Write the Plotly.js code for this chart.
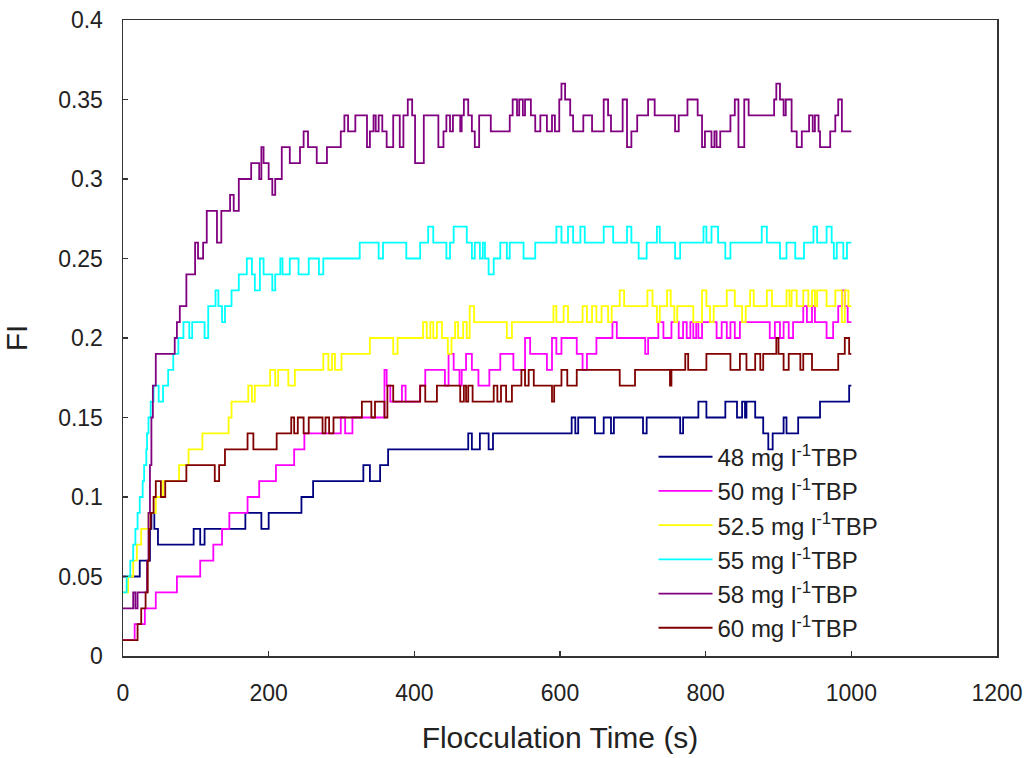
<!DOCTYPE html>
<html>
<head>
<meta charset="utf-8">
<script src="https://cdn.plot.ly/plotly-3.0.1.min.js"></script>
<style>
html,body{margin:0;padding:0;background:#fff;}
#chart{width:1031px;height:758px;}
</style>
</head>
<body>
<div id="chart"></div>
<script>
// Series names
const seriesNames = [
  '48 mg l<sup>-1</sup>TBP',
  '50 mg l<sup>-1</sup>TBP',
  '52.5 mg l<sup>-1</sup>TBP',
  '55 mg l<sup>-1</sup>TBP',
  '58 mg l<sup>-1</sup>TBP',
  '60 mg l<sup>-1</sup>TBP'
];

// 48 mg/l TBP: step change times (s) and FI values
const t48 = [0,23,37,39,43,48,97,106,112,168,190,200,245,261,330,339,353,364,474,479,490,502,508,616,621,625,648,660,670,674,714,719,765,769,790,801,827,843,850,854,856,868,879,886,892,907,911,927,957,997,1000];
const v48 = [0.05,0.06,0.08,0.09,0.08,0.07,0.08,0.07,0.08,0.09,0.08,0.09,0.10,0.11,0.12,0.11,0.12,0.13,0.14,0.13,0.14,0.13,0.14,0.15,0.14,0.15,0.14,0.15,0.14,0.15,0.14,0.15,0.14,0.15,0.16,0.15,0.16,0.15,0.16,0.15,0.16,0.15,0.14,0.13,0.14,0.15,0.14,0.15,0.16,0.17,0.17];

// 50 mg/l TBP
const t50 = [0,16,30,45,74,106,124,136,146,171,187,210,235,249,299,305,315,359,362,367,383,388,408,415,442,447,454,462,465,471,479,488,503,518,536,552,559,582,589,595,602,623,631,637,650,672,678,717,721,735,742,753,763,769,774,779,783,787,790,795,815,822,829,834,840,847,888,895,902,907,914,920,934,939,946,950,966,975,982,987,991,995,1000];
const v50 = [0.01,0.02,0.03,0.04,0.05,0.06,0.07,0.08,0.09,0.10,0.11,0.12,0.13,0.14,0.15,0.14,0.15,0.18,0.17,0.16,0.17,0.16,0.17,0.18,0.17,0.19,0.18,0.17,0.18,0.19,0.18,0.17,0.18,0.19,0.18,0.20,0.19,0.18,0.20,0.19,0.20,0.19,0.18,0.19,0.20,0.21,0.20,0.19,0.20,0.21,0.20,0.21,0.20,0.21,0.20,0.21,0.20,0.21,0.20,0.21,0.20,0.21,0.20,0.21,0.20,0.21,0.20,0.21,0.20,0.21,0.20,0.21,0.22,0.21,0.22,0.21,0.20,0.21,0.22,0.23,0.22,0.21,0.21];

// 52.5 mg/l TBP
const t52 = [0,7,14,19,25,35,45,55,77,90,109,145,149,172,177,181,202,209,213,227,236,275,282,287,291,300,339,371,377,412,417,422,426,431,438,446,451,456,460,467,472,476,482,527,534,591,595,605,611,631,637,644,650,657,666,671,682,688,720,727,733,737,747,752,757,761,783,795,801,806,811,829,840,850,855,861,866,884,891,911,915,918,925,934,941,946,950,953,966,978,987,991,996,1000];
const v52 = [0.04,0.05,0.06,0.07,0.08,0.09,0.10,0.11,0.12,0.13,0.14,0.15,0.16,0.17,0.16,0.17,0.18,0.17,0.18,0.17,0.18,0.19,0.18,0.19,0.18,0.19,0.20,0.19,0.20,0.21,0.20,0.21,0.20,0.21,0.20,0.19,0.20,0.21,0.20,0.21,0.20,0.22,0.21,0.20,0.21,0.22,0.21,0.22,0.21,0.22,0.21,0.22,0.21,0.22,0.21,0.22,0.23,0.22,0.23,0.22,0.21,0.22,0.23,0.22,0.21,0.22,0.21,0.23,0.22,0.21,0.22,0.23,0.22,0.21,0.22,0.23,0.22,0.23,0.22,0.23,0.22,0.23,0.22,0.23,0.22,0.23,0.22,0.23,0.22,0.23,0.21,0.23,0.22,0.22];

// 55 mg/l TBP
const t55 = [0,5,10,14,17,20,23,27,29,32,33,35,38,42,49,55,62,69,76,83,91,95,112,117,127,131,136,140,149,159,170,177,181,188,193,205,209,216,219,229,241,255,269,275,325,351,357,389,408,419,426,444,449,454,472,479,483,490,494,497,502,509,518,527,531,550,566,595,602,611,618,628,634,660,673,692,698,708,719,733,737,758,765,797,801,808,817,827,834,877,884,902,911,923,935,948,953,966,973,976,980,989,994,1000];
const v55 = [0.04,0.05,0.06,0.07,0.08,0.09,0.10,0.11,0.12,0.13,0.14,0.15,0.16,0.17,0.16,0.17,0.18,0.19,0.20,0.21,0.20,0.21,0.20,0.22,0.23,0.22,0.21,0.22,0.23,0.24,0.25,0.24,0.23,0.25,0.24,0.23,0.24,0.25,0.24,0.25,0.24,0.25,0.24,0.25,0.26,0.25,0.26,0.25,0.26,0.27,0.26,0.25,0.26,0.27,0.26,0.25,0.26,0.25,0.26,0.25,0.24,0.25,0.26,0.25,0.26,0.25,0.26,0.27,0.26,0.27,0.26,0.27,0.26,0.27,0.26,0.27,0.26,0.25,0.26,0.27,0.26,0.25,0.26,0.27,0.26,0.27,0.26,0.25,0.26,0.27,0.26,0.25,0.26,0.25,0.26,0.27,0.26,0.27,0.26,0.25,0.26,0.25,0.26,0.26];

// 58 mg/l TBP
const t58 = [0,14,17,20,33,35,37,39,41,45,71,74,78,87,99,103,110,115,129,135,147,152,159,176,187,190,193,200,205,209,218,229,243,248,254,266,280,299,304,309,319,335,339,344,347,351,356,362,371,380,385,391,397,401,413,433,440,444,449,453,463,465,468,474,479,483,489,505,531,535,541,544,549,552,560,566,573,582,589,593,599,602,607,614,618,632,644,660,666,670,686,692,698,706,721,730,758,763,775,789,795,799,808,812,815,820,834,840,845,853,859,894,897,902,907,910,918,925,932,942,947,950,955,957,971,978,982,987,1000];
const v58 = [0.03,0.04,0.03,0.04,0.06,0.09,0.12,0.15,0.17,0.19,0.20,0.21,0.22,0.24,0.26,0.25,0.26,0.28,0.26,0.28,0.29,0.28,0.30,0.31,0.30,0.32,0.31,0.30,0.29,0.30,0.32,0.31,0.32,0.33,0.32,0.31,0.32,0.33,0.34,0.33,0.34,0.32,0.33,0.34,0.33,0.34,0.33,0.32,0.34,0.32,0.34,0.35,0.34,0.31,0.34,0.32,0.33,0.34,0.33,0.34,0.33,0.34,0.35,0.34,0.33,0.32,0.34,0.33,0.34,0.35,0.34,0.35,0.34,0.35,0.34,0.33,0.34,0.33,0.34,0.33,0.35,0.36,0.35,0.34,0.33,0.34,0.33,0.35,0.34,0.33,0.35,0.32,0.33,0.34,0.35,0.34,0.33,0.34,0.35,0.34,0.32,0.33,0.32,0.33,0.32,0.33,0.34,0.35,0.32,0.35,0.34,0.35,0.36,0.35,0.34,0.35,0.33,0.32,0.33,0.34,0.33,0.34,0.33,0.32,0.33,0.34,0.35,0.33,0.33];

// 60 mg/l TBP
const t60 = [0,20,25,31,34,36,38,42,45,52,58,87,126,132,140,171,179,211,231,235,240,248,255,274,278,283,289,328,341,346,359,363,371,408,415,431,463,468,471,474,480,509,514,519,526,534,547,552,557,564,589,592,602,610,623,682,703,751,753,772,776,801,834,847,856,868,875,879,897,900,907,914,930,934,946,982,991,997,1000];
const v60 = [0.01,0.02,0.03,0.04,0.06,0.08,0.09,0.10,0.11,0.10,0.11,0.12,0.11,0.12,0.13,0.14,0.13,0.14,0.15,0.14,0.15,0.14,0.15,0.14,0.15,0.14,0.15,0.16,0.15,0.16,0.15,0.17,0.16,0.17,0.16,0.17,0.16,0.17,0.16,0.17,0.16,0.17,0.16,0.17,0.16,0.17,0.18,0.17,0.18,0.17,0.16,0.17,0.18,0.17,0.18,0.17,0.18,0.17,0.18,0.19,0.18,0.19,0.18,0.19,0.18,0.19,0.18,0.19,0.20,0.19,0.18,0.19,0.18,0.19,0.18,0.19,0.20,0.19,0.19];

const seriesColors = ['#000080','#FF00FF','#FFFF00','#00FFFF','#800080','#800000'];
const xs = [t48, t50, t52, t55, t58, t60];
const ys = [v48, v50, v52, v55, v58, v60];

const xTicks = [0,200,400,600,800,1000,1200];
const yTicks = [0,0.05,0.1,0.15,0.2,0.25,0.3,0.35,0.4];

const traces = seriesNames.map((n, i) => ({
  type: 'scatter',
  mode: 'lines',
  name: n,
  x: xs[i],
  y: ys[i],
  line: {color: seriesColors[i], width: 1.8, shape: 'hv'}
}));

const font = 'Arial, "Liberation Sans", sans-serif';
const layout = {
  width: 1031, height: 758,
  margin: {l: 123, r: 34, t: 20, b: 102},
  paper_bgcolor: '#fff', plot_bgcolor: '#fff',
  font: {family: font, color: '#222'},
  showlegend: true,
  legend: {
    x: 0.607, y: 0.348, xanchor: 'left', yanchor: 'top',
    bgcolor: 'rgba(0,0,0,0)', borderwidth: 0,
    font: {family: font, size: 24, color: '#222'},
    itemwidth: 54
  },
  xaxis: {
    range: [0, 1200], tickvals: xTicks, ticktext: xTicks.map(String),
    showgrid: false, zeroline: false,
    showline: true, linecolor: '#333', linewidth: 1.5, mirror: true,
    ticks: 'inside', ticklen: 5, tickcolor: '#333', tickwidth: 1.5,
    tickfont: {family: font, size: 23, color: '#222'},
    ticklabelstandoff: 16,
    title: {text: 'Flocculation Time (s)', font: {family: font, size: 30, color: '#222'}, standoff: 22}
  },
  yaxis: {
    range: [0, 0.4], tickvals: yTicks, ticktext: yTicks.map(String),
    showgrid: false, zeroline: false,
    showline: true, linecolor: '#333', linewidth: 1.5, mirror: true,
    ticks: 'inside', ticklen: 5, tickcolor: '#333', tickwidth: 1.5,
    tickfont: {family: font, size: 23, color: '#222'},
    ticklabelstandoff: 14,
    title: {text: 'FI', font: {family: font, size: 30, color: '#222'}, standoff: 22}
  }
};

Plotly.newPlot('chart', traces, layout, {displayModeBar: false, staticPlot: true});
</script>
</body>
</html>
